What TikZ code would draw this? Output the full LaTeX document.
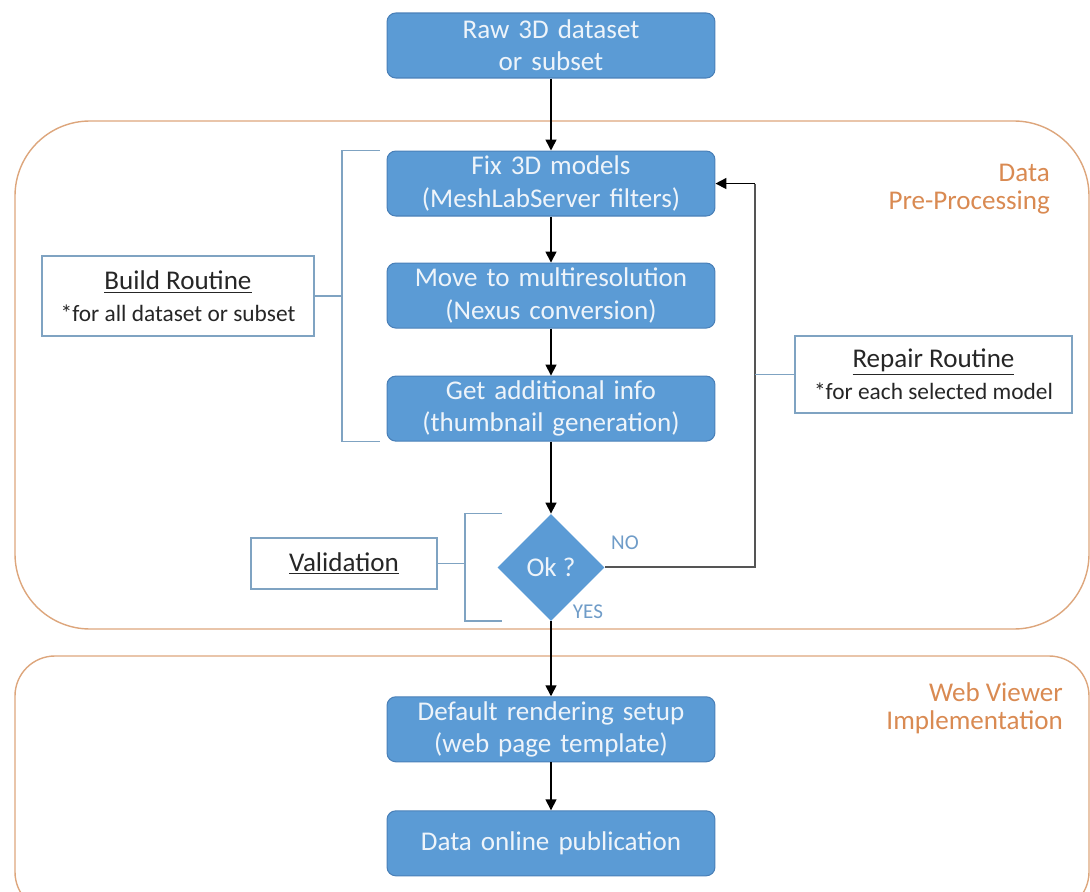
\documentclass[tikz,border=0pt]{standalone}
\usepackage{fontspec}
\setmainfont{Carlito}
\usepackage{tikz}
\usetikzlibrary{arrows.meta,positioning,shapes.geometric}
\definecolor{boxblue}{HTML}{5B9BD5}
\definecolor{boxedge}{HTML}{4A80B8}
\definecolor{boxtext}{HTML}{EEF4FA}
\definecolor{brk}{HTML}{7FA3C2}
\definecolor{orng}{HTML}{DDA67C}
\definecolor{orngtxt}{HTML}{D98A52}
\definecolor{yesno}{HTML}{6F9CC8}
\definecolor{ret}{HTML}{555555}

\begin{document}
\begin{tikzpicture}[x=0.02cm,y=-0.02cm,>={Triangle[length=2.2mm,width=2.2mm]},
  font=\fontsize{15.4}{18.3}\selectfont,
  proc/.style={draw=boxedge,fill=boxblue,text=boxtext,rounded corners=5pt,minimum width=6.56cm,
               minimum height=1.3cm,text width=6.4cm,align=center,inner sep=1pt,line width=0.6pt},
  deci/.style={diamond,fill=boxblue,text=boxtext,minimum width=2.14cm,minimum height=2.14cm,
               inner sep=0pt,aspect=1},
  side/.style={draw=brk,line width=0.8pt,align=center,inner sep=2pt,text=black!85},
  brkt/.style={draw=brk,line width=0.9pt},
  flow/.style={->,line width=0.9pt,black},
  zone/.style={draw=orng,line width=0.8pt},
  ztext/.style={text=orngtxt,align=right,font=\fontsize{15.4}{16}\selectfont}]
  \path[use as bounding box] (0,0) rectangle (1090,892);
  % stages
  \draw[zone,rounded corners=1.5cm] (15,121) rectangle (1089,629);
  \begin{scope}
    \clip (0,0) rectangle (1090,892);
    \draw[zone,rounded corners=0.8cm] (15,656) rectangle (1089,912);
  \end{scope}
  \node[ztext,anchor=east] (pre) at (1056,189) {Data\\Pre-Processing};
  \node[ztext,anchor=east] (web) at (1069,708) {Web Viewer\\Implementation};
  % main flow
  \node[proc] (raw) at (551,45.5) {Raw 3D dataset\\or subset};
  \node[proc,below=1.44cm of raw] (fix) {Fix 3D models\\(MeshLabServer filters)};
  \node[proc,below=0.92cm of fix] (move) {Move to multiresolution\\(Nexus conversion)};
  \node[proc,below=0.94cm of move] (info) {Get additional info\\(thumbnail generation)};
  \node[deci,below=1.44cm of info] (ok) {Ok ?};
  \node[proc,below=1.5cm of ok] (render) {Default rendering setup\\(web page template)};
  \node[proc,below=0.96cm of render] (pub) {Data online publication};
  \foreach \a/\b in {raw/fix,fix/move,move/info,info/ok,ok/render,render/pub}{\draw[flow] (\a) -- (\b);}
  \node[text=yesno,font=\fontsize{12}{14}\selectfont] (no) at (625,543) {NO};
  \node[text=yesno,font=\fontsize{12}{14}\selectfont] (yes) at (588,612) {YES};
  % repair loop
  \coordinate (rx) at (755,0);
  \draw[line width=1.1pt,ret] (ok.east) -| (rx |- fix.east);
  \draw[flow] (rx |- fix.east) -- (fix.east);
  \node[side,minimum width=5.54cm,minimum height=1.54cm] (rep) at (933.5,374.5)
    {\underline{Repair Routine}\\\fontsize{13.3}{16.5}\selectfont *for each selected model};
  \draw[brkt] (rep.west) -- (rep.west -| rx);
  % build routine
  \node[side,minimum width=5.44cm,minimum height=1.6cm] (build) at (178,296)
    {\underline{Build Routine}\\\fontsize{13.3}{16.5}\selectfont *for all dataset or subset};
  \coordinate (bx) at (342,0);
  \draw[brkt] ([xshift=-0.14cm]fix.north west) -| (bx |- info.south) -- ([xshift=-0.14cm]info.south west);
  \draw[brkt] (build.east) -- (build.east -| bx);
  % validation
  \node[side,minimum width=3.72cm,minimum height=1.02cm] (valid) at (344,563.5) {\underline{Validation}};
  \coordinate (vx) at (465,0);
  \draw[brkt] ([xshift=-0.98cm]ok.north) -| (vx |- ok.south) -- ([xshift=-0.98cm]ok.south);
  \draw[brkt] (valid.east) -- (valid.east -| vx);
\end{tikzpicture}
\end{document}
